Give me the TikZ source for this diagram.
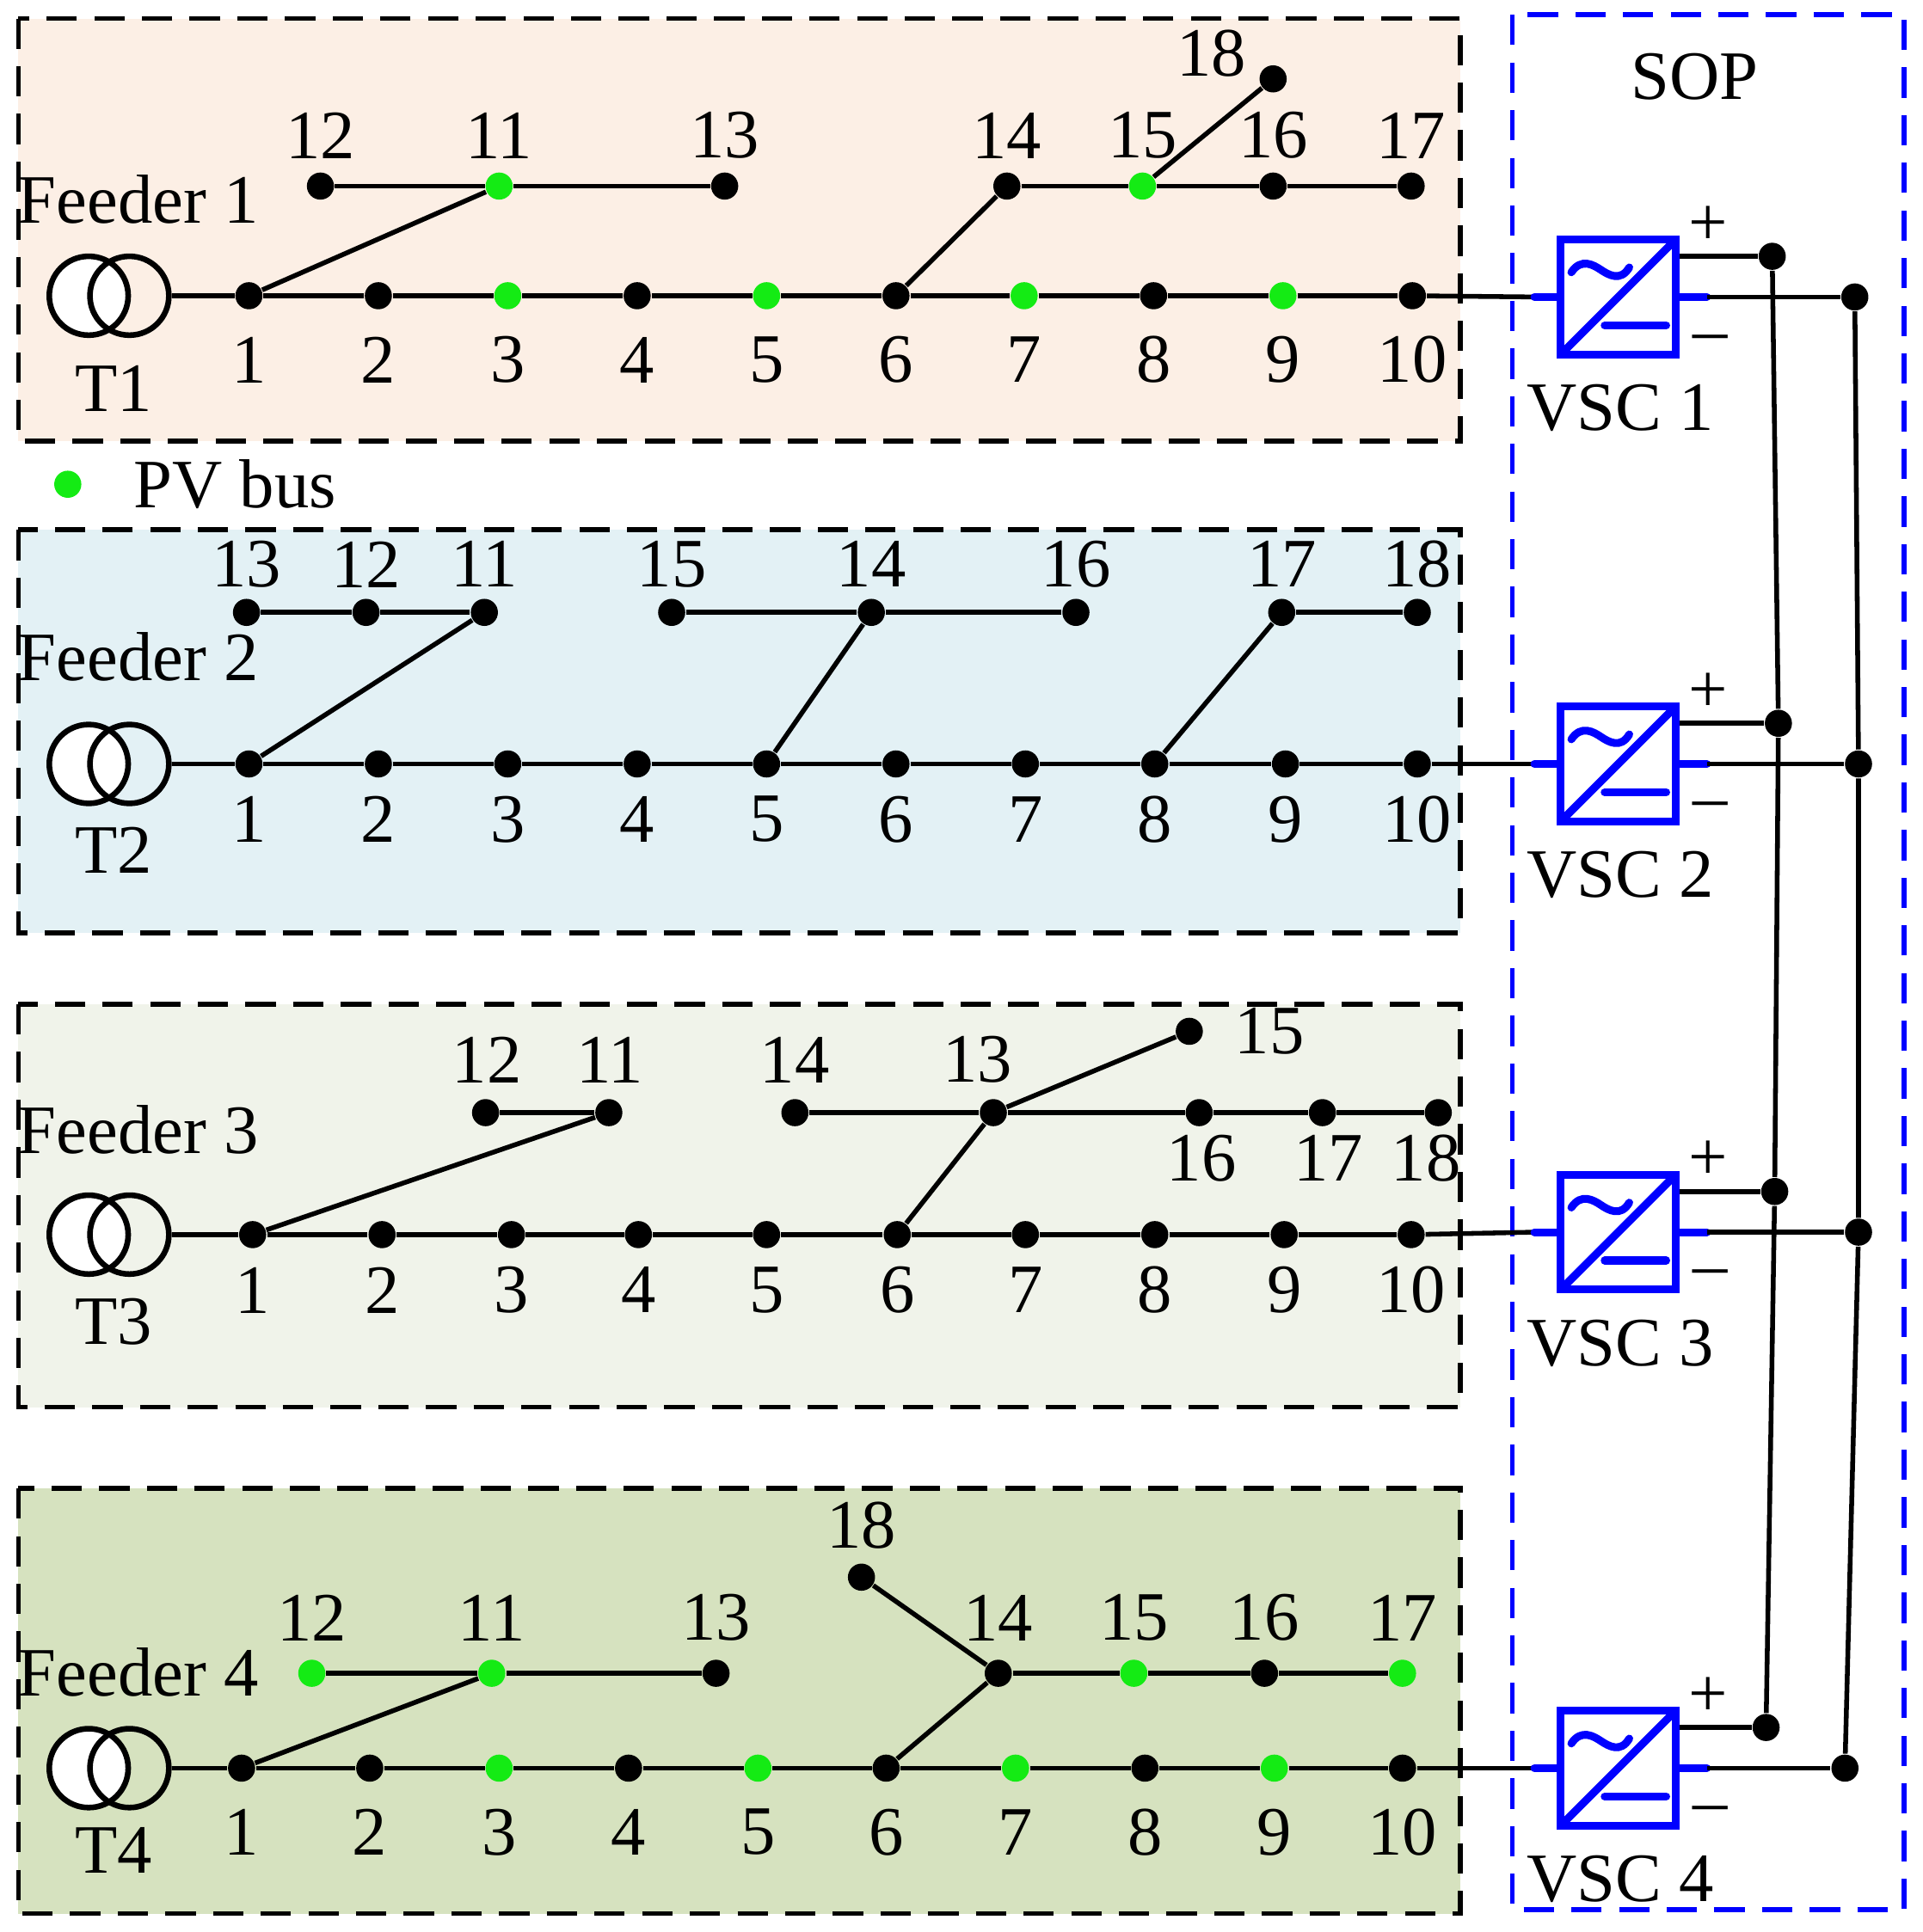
\documentclass[tikz,border=0pt]{standalone}
\usepackage{fontspec}
\setmainfont{Liberation Serif}
\begin{document}
\definecolor{cA}{HTML}{FCEFE5}
\definecolor{cB}{HTML}{E3F1F5}
\definecolor{cC}{HTML}{F0F3EA}
\definecolor{cD}{HTML}{D6E2BF}
\definecolor{pvg}{RGB}{20,235,20}
\definecolor{sblue}{RGB}{0,0,255}
\newcommand{\fs}{\fontsize{16}{19}\selectfont}
\begin{tikzpicture}[x=0.01cm,y=-0.01cm,
 bus/.style={circle,fill=black,inner sep=0,minimum size=0.22cm},
 pv/.style={circle,fill=pvg,inner sep=0,minimum size=0.22cm},
 ln/.style={line width=1.1pt},
 lab/.style={font=\fs,inner sep=0},
 box/.style={draw,line width=1.1pt,dash pattern=on 7pt off 4pt},
 tr/.style={circle,draw,fill=white,minimum size=0.64cm,inner sep=0,line width=1.3pt},
 vsc/.style={draw=sblue,line width=1.8pt,minimum size=0.93cm,inner sep=0},
 bl/.style={sblue,line width=1.8pt,line cap=round}]
\useasboundingbox (0,0) rectangle (1560,1568);
% boxes
\draw[box,fill=cA] (15,15) rectangle (1185,358);
\draw[box,fill=cB] (15,430) rectangle (1185,757);
\draw[box,fill=cC] (15,815) rectangle (1185,1142);
\draw[box,fill=cD] (15,1208) rectangle (1185,1553);
\draw[box,draw=sblue] (1227,12) rectangle (1545,1550);
\node[lab] (sop) at (1375,62) {SOP};
% legend
\node[pv] (leg) at (55,393) {};
\node[lab,anchor=west] (legt) at (108,393) {PV bus};

% ===== Feeder 1
\node[lab] (F1) at (112,162) {Feeder 1};
\node[tr] (t1a) at (72,240) {}; \node[tr,fill=none] (t1b) at (105,240) {};
\node[lab] (T1) at (92,315) {T1};
\foreach \i/\x/\s in {1/202/bus,2/307/bus,3/412/pv,4/517/bus,5/622/pv,6/727/bus,7/831/pv,8/936/bus,9/1041/pv,10/1146/bus}
 {\node[\s] (a\i) at (\x,240) {}; \node[lab] (la\i) at (\x,292) {\i};}
\foreach \i/\x/\s in {12/260/bus,11/405/pv,13/588/bus,14/817/bus,15/927/pv,16/1033/bus,17/1145/bus}
 {\node[\s] (a\i) at (\x,151) {}; \node[lab] (la\i) at (\x,110) {\i};}
\node[bus] (a18) at (1033,64) {}; \node[lab] (la18) at (983,43) {18};
\draw[ln] (t1b) -- (a1);
\foreach \i/\j in {1/2,2/3,3/4,4/5,5/6,6/7,7/8,8/9,9/10,12/11,11/13,14/15,15/16,16/17,1/11,6/14,15/18} {\draw[ln] (a\i) -- (a\j);}

% ===== Feeder 2
\node[lab] (F2) at (112,533) {Feeder 2};
\node[tr] (t2a) at (72,620) {}; \node[tr,fill=none] (t2b) at (105,620) {};
\node[lab] (T2) at (92,690) {T2};
\foreach \i/\x in {1/202,2/307,3/412,4/517,5/622,6/727,7/832,8/937,9/1043,10/1150}
 {\node[bus] (b\i) at (\x,620) {}; \node[lab] (lb\i) at (\x,665) {\i};}
\foreach \i/\x in {13/200,12/297,11/393,15/545,14/707,16/873,17/1040,18/1150}
 {\node[bus] (b\i) at (\x,497) {}; \node[lab] (lb\i) at (\x,458) {\i};}
\draw[ln] (t2b) -- (b1);
\foreach \i/\j in {1/2,2/3,3/4,4/5,5/6,6/7,7/8,8/9,9/10,13/12,12/11,15/14,14/16,17/18,1/11,5/14,8/17} {\draw[ln] (b\i) -- (b\j);}

% ===== Feeder 3
\node[lab] (F3) at (112,917) {Feeder 3};
\node[tr] (t3a) at (72,1002) {}; \node[tr,fill=none] (t3b) at (105,1002) {};
\node[lab] (T3) at (92,1073) {T3};
\foreach \i/\x in {1/205,2/310,3/415,4/518,5/622,6/728,7/832,8/937,9/1042,10/1145}
 {\node[bus] (c\i) at (\x,1002) {}; \node[lab] (lc\i) at (\x,1047) {\i};}
\foreach \i/\x in {12/394,11/494,14/645,13/806,16/973,17/1073,18/1167}
 {\node[bus] (c\i) at (\x,903) {};}
\node[lab] (lc12) at (395,860) {12}; \node[lab] (lc11) at (495,860) {11};
\node[lab] (lc14) at (645,860) {14}; \node[lab] (lc13) at (793,860) {13};
\node[lab] (lc16) at (975,940) {16}; \node[lab] (lc17) at (1078,940) {17};
\node[lab] (lc18) at (1157,940) {18};
\node[bus] (c15) at (965,837) {}; \node[lab] (lc15) at (1030,837) {15};
\draw[ln] (t3b) -- (c1);
\foreach \i/\j in {1/2,2/3,3/4,4/5,5/6,6/7,7/8,8/9,9/10,12/11,14/13,13/16,16/17,17/18,1/11,6/13,13/15} {\draw[ln] (c\i) -- (c\j);}

% ===== Feeder 4
\node[lab] (F4) at (112,1357) {Feeder 4};
\node[tr] (t4a) at (72,1435) {}; \node[tr,fill=none] (t4b) at (105,1435) {};
\node[lab] (T4) at (92,1502) {T4};
\foreach \i/\x/\s in {1/196/bus,2/300/bus,3/405/pv,4/510/bus,5/615/pv,6/719/bus,7/824/pv,8/929/bus,9/1034/pv,10/1138/bus}
 {\node[\s] (d\i) at (\x,1435) {}; \node[lab] (ld\i) at (\x,1487) {\i};}
\foreach \i/\x/\s in {12/253/pv,11/399/pv,13/581/bus,14/810/bus,15/920/pv,16/1026/bus,17/1138/pv}
 {\node[\s] (d\i) at (\x,1358) {}; \node[lab] (ld\i) at (\x,1313) {\i};}
\node[bus] (d18) at (699,1280) {}; \node[lab] (ld18) at (699,1238) {18};
\draw[ln] (t4b) -- (d1);
\foreach \i/\j in {1/2,2/3,3/4,4/5,5/6,6/7,7/8,8/9,9/10,12/11,11/13,14/15,15/16,16/17,1/11,6/14,14/18} {\draw[ln] (d\i) -- (d\j);}

% ===== VSCs
\foreach \k/\y/\px/\mx/\src in {1/241/1438/1505/a10,2/620/1443/1508/b10,3/1000/1440/1508/c10,4/1435/1433/1497/d10}{
 \node[vsc] (v\k) at (1313,\y) {};
 \coordinate (vi\k) at (1245,\y);
 \coordinate (vm\k) at (1385,\y);
 \node[bus] (p\k) at (\px,\y-33) {};
 \node[bus] (m\k) at (\mx,\y) {};
 \draw[ln] (\src) -- (vi\k);
 \draw[bl] (vi\k) -- (v\k.west);
 \draw[bl] (v\k.east) -- (vm\k);
 \draw[ln] (vm\k) -- (m\k);
 \draw[ln] (v\k.east |- p\k) -- (p\k);
 \draw[bl,line cap=butt] ([shift={(3,-3)}]v\k.south west) -- ([shift={(-3,3)}]v\k.north east);
 \draw[bl] ([shift={(-11,23)}]v\k.center) -- ([shift={(39,23)}]v\k.center);
 \draw[bl] ([shift={(-38,-20)}]v\k.center) .. controls ([shift={(-30,-32)}]v\k.center) and ([shift={(-20,-26)}]v\k.center) .. ([shift={(-14,-22)}]v\k.center) .. controls ([shift={(-8,-18)}]v\k.center) and ([shift={(2,-12)}]v\k.center) .. ([shift={(9,-24)}]v\k.center);
 \node[lab] (pl\k) at (1386,\y-58) {+};
 \node[lab] (ml\k) at (1388,\y+38) {–};
 \node[lab] (vl\k) at (1315,\y+90) {VSC \k};
}
\draw[ln] (p1) -- (p2) -- (p3) -- (p4);
\draw[ln] (m1) -- (m2) -- (m3) -- (m4);
\end{tikzpicture}
\end{document}
